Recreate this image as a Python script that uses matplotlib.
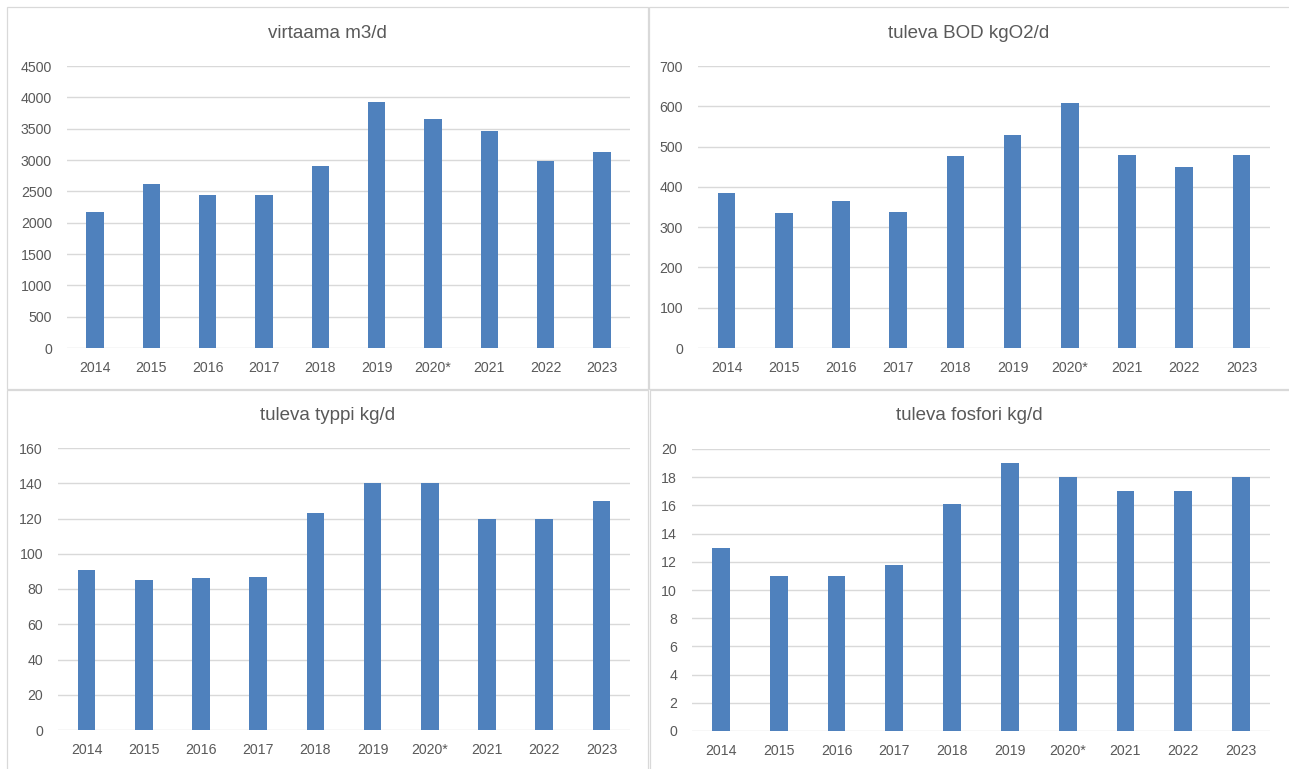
import matplotlib.pyplot as plt
from matplotlib.patches import Rectangle

plt.rcParams['font.family'] = ['Liberation Sans', 'DejaVu Sans']

# data
years = ['2014', '2015', '2016', '2017', '2018', '2019', '2020*', '2021', '2022', '2023']
virtaama = [2170, 2615, 2440, 2440, 2900, 3930, 3655, 3470, 2980, 3135]
bod = [384, 335, 364, 337, 477, 529, 607, 478, 450, 478]
typpi = [91, 85, 86, 87, 123, 140, 140, 120, 120, 130]
fosfori = [13, 11, 11, 11.8, 16.1, 19, 18, 17, 17, 18]

titles = ['virtaama m3/d', 'tuleva BOD kgO2/d', 'tuleva typpi kg/d', 'tuleva fosfori kg/d']
y_max = [4500, 700, 160, 20]
y_step = [500, 100, 20, 2]

BAR = '#4F81BD'
TXT = '#595959'
GRID = '#D9D9D9'

W, H = 1289, 769
fig = plt.figure(figsize=(W / 100, H / 100), dpi=100)
fig.patch.set_facecolor('white')


def px_rect(l, t, r, b):
    # pixel box (top-left origin) -> figure fraction [x, y, w, h]
    return [l / W, 1 - b / H, (r - l) / W, (b - t) / H]


# panel frames (left, top, right, bottom) in pixels
frames = [(7, 7, 648, 389), (649, 7, 1300, 389), (7, 390, 648, 780), (650, 390, 1300, 780)]
# plot areas
plots = [(67, 66, 630, 348), (698, 66, 1270, 348), (58, 448, 630, 730), (692, 449, 1270, 731)]
series = [virtaama, bod, typpi, fosfori]

for fr in frames:
    l, t, r, b = fr
    x0, y0, w, h = px_rect(l, t, r, b)
    fig.patches.append(Rectangle((x0, y0), w, h, transform=fig.transFigure,
                                 fill=False, edgecolor=GRID, linewidth=0.9, zorder=0))

for i in range(4):
    ax = fig.add_axes(px_rect(*plots[i]))
    xs = range(len(years))
    ax.bar(xs, series[i], width=0.31, color=BAR, zorder=3)
    ax.set_xlim(-0.5, len(years) - 0.5)
    ax.set_ylim(0, y_max[i])
    ax.set_yticks(range(0, y_max[i] + 1, y_step[i]))
    ax.set_xticks(list(xs))
    ax.set_xticklabels(years)
    ax.grid(axis='y', color=GRID, linewidth=1.0, zorder=0)
    ax.set_axisbelow(True)
    for s in ax.spines.values():
        s.set_visible(False)
    ax.tick_params(length=0, colors=TXT, labelsize=10.2)
    ax.tick_params(axis='y', pad=10.8)
    ax.tick_params(axis='x', pad=9.5)

    l = frames[i][0]
    cx = ((l + frames[i][2]) / 2 if i in (0, 2) else (l + W) / 2) / W
    ty = 33 if i < 2 else 415
    fig.text(cx, 1 - ty / H, titles[i], ha='center', va='center', color=TXT, fontsize=13.5)

fig.savefig('out.png', dpi=100, facecolor='white')
